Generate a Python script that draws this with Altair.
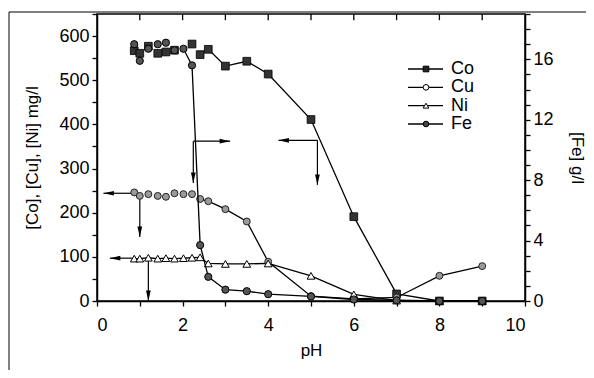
import altair as alt
import pandas as pd

FONT = "Liberation Sans"

# ---------------- data ----------------
ph_co = [0.87, 1.0, 1.2, 1.42, 1.61, 1.81, 2.22, 2.41, 2.6, 3.0, 3.5, 4.0, 5.0, 6.0, 7.0, 8.0, 9.0]
co = [567, 561, 577, 561, 564, 568, 582, 558, 570, 532, 543, 514, 411, 191, 16, 0, 0]
co_line_from = 2.6

ph_all = [0.87, 1.0, 1.2, 1.42, 1.61, 1.81, 2.02, 2.22, 2.41, 2.6, 3.0, 3.5, 4.0, 5.0, 6.0, 7.0, 8.0, 9.0]
cu = [246, 238, 242, 238, 236, 244, 242, 242, 231, 226, 208, 180, 89, 11, 5, 8, 57, 79]
cu_line_from = 2.41

ni = [96, 96, 98, 96, 97, 96, 97, 98, 99, 85, 84, 84, 85, 57, 15, 1, 0, 0]
ni_line_from = 0.87

fe = [17.0, 15.9, 16.7, 17.0, 17.1, 16.6, 16.7, 15.6, 3.7, 1.6, 0.75, 0.65, 0.45, 0.3, 0.1, 0.05, 0, 0]
fe_line_from = 2.02

series_names = ["Co", "Cu", "Ni", "Fe"]

# annotation arrows (in data units: pH, mg/l)
arrow_x_from = [5.15, 2.25, 0.87, 0.87]
arrow_x_to = [4.24, 3.11, 0.15, 0.30]
arrow_y = [364, 362, 244, 97]
drop_x = [5.15, 2.25, 1.0, 1.2]
drop_y_from = [364, 362, 244, 97]
drop_y_to = [263, 267, 145, 0]

top_tick_ph = [1, 2, 3, 4, 5, 6, 7, 8, 9]

# ---------------- frames ----------------
def frame(ph, vals, start):
    return pd.DataFrame({"pH": ph, "v": vals, "conn": [p >= start for p in ph]})

df_co = frame(ph_co, co, co_line_from)
df_cu = frame(ph_all, cu, cu_line_from)
df_ni = frame(ph_all, ni, ni_line_from)
df_fe = frame(ph_all, fe, fe_line_from)

df_h = pd.DataFrame({"x1": arrow_x_from, "x2": arrow_x_to, "y": arrow_y})
df_v = pd.DataFrame({"x": drop_x, "y1": drop_y_from, "y2": drop_y_to})
heads = []
for a, b, y in zip(arrow_x_from, arrow_x_to, arrow_y):
    heads.append({"x": b, "y": y, "dir": "right" if b > a else "left"})
for x, a, b in zip(drop_x, drop_y_from, drop_y_to):
    heads.append({"x": x, "y": b, "dir": "down"})
df_heads = pd.DataFrame(heads)
df_top = pd.DataFrame({"pH": top_tick_ph})
df_leg = pd.DataFrame({"name": series_names})

# ---------------- scales / axes ----------------
x_scale = alt.Scale(domain=[0, 10], nice=False, zero=False)
x_axis = alt.Axis(title="pH", values=list(range(0, 11)),
                  labelExpr="datum.value % 2 == 0 ? datum.label : ''",
                  tickSize=5, labelPadding=10, titlePadding=8, grid=False)

yl_scale = alt.Scale(domain=[0, 650], nice=False, zero=True)
yl_axis = alt.Axis(title="[Co], [Cu], [Ni] mg/l", orient="left", values=list(range(0, 651, 50)),
                   labelExpr="datum.value % 100 == 0 ? datum.label : ''",
                   tickSize=5, labelPadding=3, titlePadding=17, grid=False)

yr_scale = alt.Scale(domain=[0, 19], nice=False, zero=True)
yr_axis = alt.Axis(title="[Fe] g/l", orient="right", values=list(range(0, 20)),
                   labelExpr="datum.value % 4 == 0 ? datum.label : ''",
                   tickSize=5, labelPadding=3, titlePadding=14, grid=False)


def X(f="pH"):
    return alt.X(f"{f}:Q", scale=x_scale, axis=x_axis)


def YL(f="v"):
    return alt.Y(f"{f}:Q", scale=yl_scale, axis=yl_axis)


LINE = dict(color="black", strokeWidth=1.3)

# ---------------- left-axis layers ----------------
left_layers = []
for df in (df_co, df_cu, df_ni):
    left_layers.append(
        alt.Chart(df).transform_filter("datum.conn").mark_line(**LINE).encode(x=X(), y=YL())
    )

left_layers.append(
    alt.Chart(df_h).mark_rule(color="black", strokeWidth=1.2).encode(
        x=X("x1"), x2="x2:Q", y=YL("y"))
)
left_layers.append(
    alt.Chart(df_v).mark_rule(color="black", strokeWidth=1.2).encode(
        x=X("x"), y=YL("y1"), y2="y2:Q")
)
left_layers.append(
    alt.Chart(df_heads).mark_point(filled=True, color="black", opacity=1, size=110).encode(
        x=X("x"), y=YL("y"),
        shape=alt.Shape("dir:N", legend=None, scale=alt.Scale(
            domain=["right", "left", "down"],
            range=["M0,0L-2,-0.45L-2,0.45Z", "M0,0L2,-0.45L2,0.45Z", "M0,0L-0.45,-2L0.45,-2Z"])))
)
left_layers.append(
    alt.Chart(df_top).mark_rule(color="black", strokeWidth=1.3).encode(
        x=X(), y=alt.datum(650, scale=yl_scale, axis=yl_axis), y2=alt.datum(636))
)

left_layers.append(
    alt.Chart(df_co).mark_point(shape="square", filled=True, fill="#333333", stroke="black",
                                strokeWidth=0.8, size=60, opacity=1).encode(x=X(), y=YL())
)
left_layers.append(
    alt.Chart(df_cu).mark_point(shape="circle", filled=True, fill="#9a9a9a", stroke="#222222",
                                strokeWidth=1.0, size=48, opacity=1).encode(x=X(), y=YL())
)
left_layers.append(
    alt.Chart(df_ni).mark_point(shape="triangle-up", filled=True, fill="white", stroke="black",
                                strokeWidth=1.0, size=60, opacity=1).encode(x=X(), y=YL())
)

# outer figure frame (decoration)
left_layers.append(
    alt.Chart(df_leg.head(1)).mark_rule(color="black", strokeWidth=1).encode(
        x=alt.value(-88), y=alt.value(-2), y2=alt.value(364))
)
left_layers.append(
    alt.Chart(df_leg.head(1)).mark_rule(color="black", strokeWidth=1).encode(
        x=alt.value(-88), x2=alt.value(500), y=alt.value(-2))
)

left = alt.layer(*left_layers)

# ---------------- right-axis (Fe) layers ----------------
YR = alt.Y("v:Q", scale=yr_scale, axis=yr_axis)
fe_line = alt.Chart(df_fe).transform_filter("datum.conn").mark_line(**LINE).encode(x=X(), y=YR)
fe_pts = alt.Chart(df_fe).mark_point(shape="circle", filled=True, fill="#555555", stroke="black",
                                     strokeWidth=1.0, size=52, opacity=1).encode(x=X(), y=YR)
right = alt.layer(fe_line, fe_pts)

# ---------------- legend ----------------
leg_y = alt.Y("name:N", scale=alt.Scale(type="point", domain=series_names, range=[55, 110], padding=0), axis=None)
leg_line = alt.Chart(df_leg).mark_rule(color="black", strokeWidth=1.3).encode(
    x=alt.value(311), x2=alt.value(346), y=leg_y)
leg_pts = alt.Chart(df_leg).mark_point(filled=True, stroke="black", strokeWidth=1, size=32, opacity=1).encode(
    x=alt.value(329), y=leg_y,
    shape=alt.Shape("name:N", legend=None, scale=alt.Scale(
        domain=series_names, range=["square", "circle", "triangle-up", "circle"])),
    fill=alt.Fill("name:N", legend=None, scale=alt.Scale(
        domain=series_names, range=["#222222", "white", "white", "#444444"])))
leg_txt = alt.Chart(df_leg).mark_text(align="left", baseline="middle", font=FONT, fontSize=18,
                                      color="black").encode(
    x=alt.value(354), y=leg_y, text="name:N")
legend = alt.layer(leg_line, leg_pts, leg_txt)

chart = alt.layer(left, right, legend).resolve_scale(
    y="independent", shape="independent", fill="independent"
).properties(
    width=428, height=287,
    autosize=alt.AutoSizeParams(type="none"),
    padding={"left": 89, "top": 6, "right": 61, "bottom": 69},
).configure_view(
    stroke="black", strokeWidth=1.5
).configure_axis(
    domainColor="black", domainWidth=1.5, tickColor="black", tickWidth=1.3,
    labelFont=FONT, labelFontSize=18, labelColor="black",
    titleFont=FONT, titleFontSize=17, titleFontWeight="normal", titleColor="black",
)

chart.save("out.html", embed_options={"renderer": "svg", "actions": False})
